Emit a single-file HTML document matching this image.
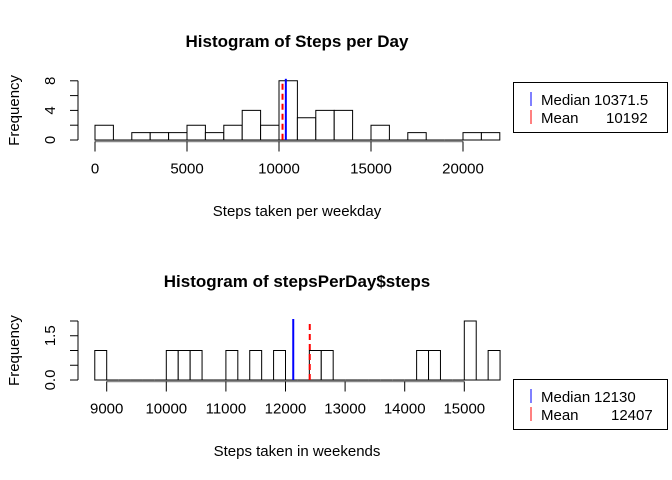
<!DOCTYPE html>
<html><head><meta charset="utf-8"><style>
body{margin:0;background:#fff}
svg{display:block;font-family:"Liberation Sans",Arial,sans-serif}
</style></head><body>
<svg id="c" width="672" height="480"></svg>
<script>
const topCounts=[2,0,1,1,1,2,1,2,4,2,8,3,4,4,0,2,0,1,0,0,1,1];
const topBinStart=0, topBinWidth=1000;
const topXTicks=[0,5000,10000,15000,20000];
const topYTicks=[0,2,4,6,8];
const topYLabels=["0","","4","","8"];
const topMedian=10371.5, topMean=10192;
const botCounts=[1,0,0,0,0,0,1,1,1,0,0,1,0,1,0,1,0,0,1,1,0,0,0,0,0,0,0,1,1,0,0,2,0,1];
const botBinStart=8800, botBinWidth=200;
const botXTicks=[9000,10000,11000,12000,13000,14000,15000];
const botYTicks=[0,0.5,1,1.5,2];
const botYLabels=["0.0","","","1.5",""];
const botMedian=12130, botMean=12407;

const svg=document.getElementById('c');
const NS='http://www.w3.org/2000/svg';
function mk(tag,attrs,parent){const e=document.createElementNS(NS,tag);for(const k in attrs)e.setAttribute(k,attrs[k]);(parent||svg).appendChild(e);return e;}
function txt(s,attrs,parent){const e=mk('text',attrs,parent);e.textContent=s;return e;}

function panel(o){
  const g=mk('g',{});
  
  
  const sx=v=>o.x0+(v-o.v0)*o.kx;
  const sy=v=>o.y0-v*o.ky;
  let t=txt(o.title,{x:o.titleX,y:o.titleY,'text-anchor':'middle','font-size':'17','font-weight':'bold'},g);
  
  o.counts.forEach((c,i)=>{
    const a=o.binStart+i*o.binWidth;
    const x1=sx(a),x2=sx(a+o.binWidth),y1=sy(c),y2=sy(0);
    const r=mk('path',{d:`M${x1},${y2}L${x1},${y1}L${x2},${y1}L${x2},${y2}Z`,fill:'#fff',stroke:'#000','stroke-width':1},g);
    
    
  });
  const xa=mk('g',{},g);
  
  const ay=o.y0+1.5;
  mk('line',{x1:sx(o.xTicks[0]),x2:sx(o.xTicks[o.xTicks.length-1]),y1:ay,y2:ay,stroke:'#888','stroke-width':1.5},xa);
  o.xTicks.forEach(v=>{
    mk('line',{x1:sx(v),x2:sx(v),y1:ay,y2:ay+10,stroke:'#000'},xa);
    const l=txt(String(v),{x:sx(v),y:ay+32,'text-anchor':'middle','font-size':'15'},xa);
    
  });
  const xt=txt(o.xTitle,{x:o.titleX,y:o.xTitleY,'text-anchor':'middle','font-size':'15'},g);
  
  const ya=mk('g',{},g);
  
  const ax=78;
  mk('line',{x1:ax,x2:ax,y1:sy(o.yTicks[o.yTicks.length-1]),y2:sy(0),stroke:'#000'},ya);
  o.yTicks.forEach((v,i)=>{
    mk('line',{x1:ax,x2:ax-8,y1:sy(v),y2:sy(v),stroke:'#000'},ya);
    if(o.yLabels[i]){const l=txt(o.yLabels[i],{x:0,y:0,'text-anchor':'middle','font-size':'15',transform:`translate(55,${sy(v)}) rotate(-90)`},ya);
      }
  });
  const yt=txt('Frequency',{x:0,y:0,'text-anchor':'middle','font-size':'15',transform:`translate(19,${(sy(0)+sy(o.yTicks[o.yTicks.length-1]))/2}) rotate(-90)`},g);
  
  const top=sy(o.yTicks[o.yTicks.length-1]);
  const ml=mk('line',{x1:sx(o.median),x2:sx(o.median),y1:top-2,y2:sy(0),stroke:'#0000ff','stroke-width':2},g);
  
  const mn=mk('line',{x1:sx(o.mean),x2:sx(o.mean),y1:top+3,y2:sy(0),stroke:'#ff0000','stroke-width':2,'stroke-dasharray':'6,4'},g);
  
  const lg=mk('g',{},g);
  
  mk('rect',{x:513.5,y:o.legY+0.5,width:154,height:50,fill:'#fff',stroke:'#000'},lg);
  mk('line',{x1:531,x2:531,y1:o.legY+10,y2:o.legY+24,stroke:'#0000ff'},lg);
  mk('line',{x1:531,x2:531,y1:o.legY+28,y2:o.legY+42,stroke:'#ff0000'},lg);
  let e=txt('Median',{x:541,y:o.legY+23,'font-size':'15'},lg);
  
  txt(String(o.median),{x:594,y:o.legY+23,'font-size':'15'},lg);
  e=txt('Mean',{x:541,y:o.legY+41,'font-size':'15'},lg);
  
  txt(String(o.mean),{x:o.meanX,y:o.legY+41,'font-size':'15'},lg);
}
panel({name:'weekday-histogram',title:'Histogram of Steps per Day',titleX:297,titleY:47,
  counts:topCounts,binStart:topBinStart,binWidth:topBinWidth,x0:95,v0:0,kx:0.0184,y0:140,ky:7.4,
  xTicks:topXTicks,yTicks:topYTicks,yLabels:topYLabels,xTitle:'Steps taken per weekday',xTitleY:216,
  median:topMedian,mean:topMean,legY:82,meanX:606});
panel({name:'weekend-histogram',title:'Histogram of stepsPerDay$steps',titleX:297,titleY:287,
  counts:botCounts,binStart:botBinStart,binWidth:botBinWidth,x0:106.7,v0:9000,kx:0.0596,y0:380,ky:29.5,
  xTicks:botXTicks,yTicks:botYTicks,yLabels:botYLabels,xTitle:'Steps taken in weekends',xTitleY:456,
  median:botMedian,mean:botMean,legY:379,meanX:611});
</script>
</body></html>
